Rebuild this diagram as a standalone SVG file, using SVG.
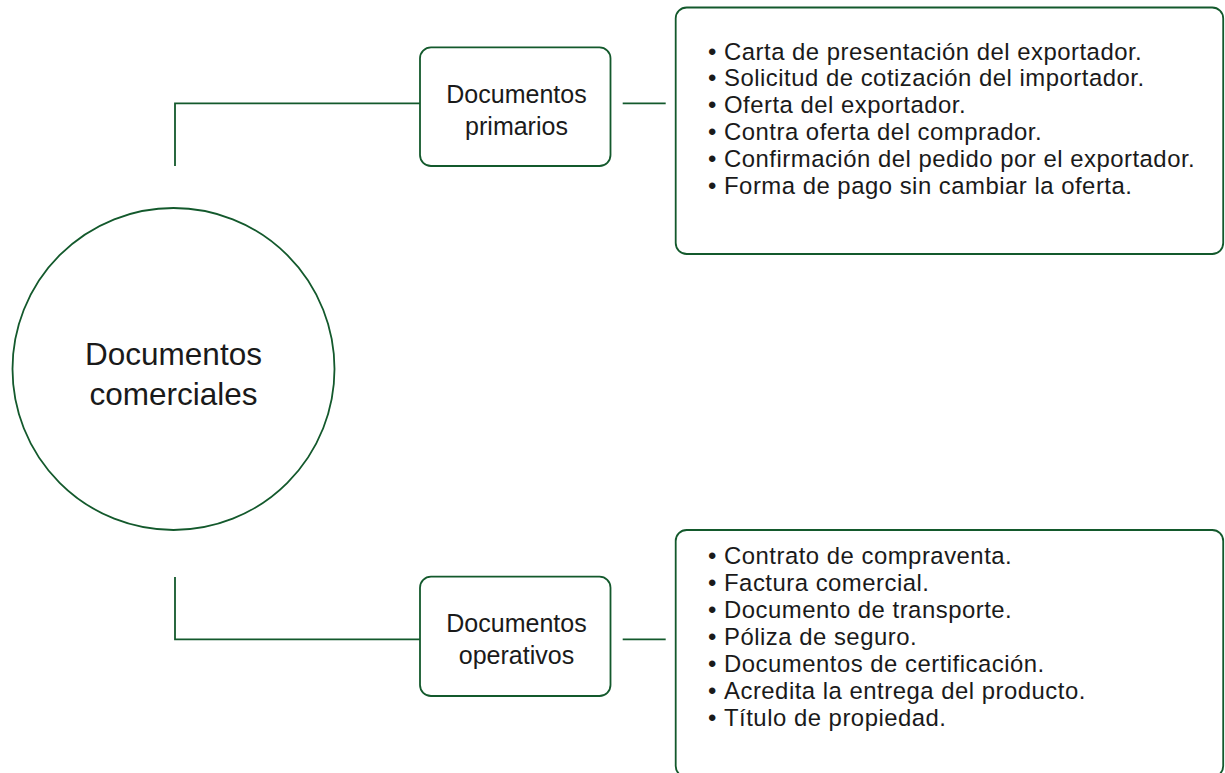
<svg xmlns="http://www.w3.org/2000/svg" width="1225" height="773" viewBox="0 0 1225 773">
<style>
.shape{fill:#ffffff;stroke:#13592c;stroke-width:1.8}
.conn{fill:none;stroke:#13592c;stroke-width:1.8}
.t{font-family:"Liberation Sans",Arial,sans-serif;fill:#1a1a1a}
.box{font-size:25px;text-anchor:middle}
.list{font-size:23.9px;letter-spacing:0.5px}
.big{font-size:31.5px;text-anchor:middle}
</style>
<rect width="1225" height="773" fill="#ffffff"/>
<g id="connectors">
<polyline class="conn" points="175,166 175,103.3 420,103.3"/>
<line class="conn" x1="622.7" y1="103.3" x2="665.7" y2="103.3"/>
<polyline class="conn" points="175,577 175,639.3 420,639.3"/>
<line class="conn" x1="622.7" y1="639.3" x2="665.7" y2="639.3"/>
</g>
<g id="root">
<circle class="shape" cx="173.5" cy="369" r="161"/>
<text class="t big" x="173.5" y="364.5">Documentos</text>
<text class="t big" x="173.5" y="404.5">comerciales</text>
</g>
<g id="primarios">
<rect class="shape" x="420" y="47.3" width="190.5" height="118.7" rx="11"/>
<text class="t box" x="516.5" y="103">Documentos</text>
<text class="t box" x="516.5" y="134.5">primarios</text>
</g>
<g id="primarios-list">
<rect class="shape" x="675.7" y="7.5" width="547.5" height="246.5" rx="11"/>
<text class="t list" y="59.5"><tspan x="708">•</tspan><tspan x="724">Carta de presentación del exportador.</tspan></text>
<text class="t list" y="86.3"><tspan x="708">•</tspan><tspan x="724">Solicitud de cotización del importador.</tspan></text>
<text class="t list" y="113.1"><tspan x="708">•</tspan><tspan x="724">Oferta del exportador.</tspan></text>
<text class="t list" y="139.9"><tspan x="708">•</tspan><tspan x="724">Contra oferta del comprador.</tspan></text>
<text class="t list" y="166.7"><tspan x="708">•</tspan><tspan x="724">Confirmación del pedido por el exportador.</tspan></text>
<text class="t list" y="193.5"><tspan x="708">•</tspan><tspan x="724">Forma de pago sin cambiar la oferta.</tspan></text>
</g>
<g id="operativos">
<rect class="shape" x="420" y="576.7" width="190.5" height="119.3" rx="11"/>
<text class="t box" x="516.5" y="632">Documentos</text>
<text class="t box" x="516.5" y="663.5">operativos</text>
</g>
<g id="operativos-list">
<rect class="shape" x="675.7" y="530" width="547.5" height="247" rx="11"/>
<text class="t list" y="564"><tspan x="708">•</tspan><tspan x="724">Contrato de compraventa.</tspan></text>
<text class="t list" y="591"><tspan x="708">•</tspan><tspan x="724">Factura comercial.</tspan></text>
<text class="t list" y="618"><tspan x="708">•</tspan><tspan x="724">Documento de transporte.</tspan></text>
<text class="t list" y="645"><tspan x="708">•</tspan><tspan x="724">Póliza de seguro.</tspan></text>
<text class="t list" y="672"><tspan x="708">•</tspan><tspan x="724">Documentos de certificación.</tspan></text>
<text class="t list" y="699"><tspan x="708">•</tspan><tspan x="724">Acredita la entrega del producto.</tspan></text>
<text class="t list" y="726"><tspan x="708">•</tspan><tspan x="724">Título de propiedad.</tspan></text>
</g>
</svg>
